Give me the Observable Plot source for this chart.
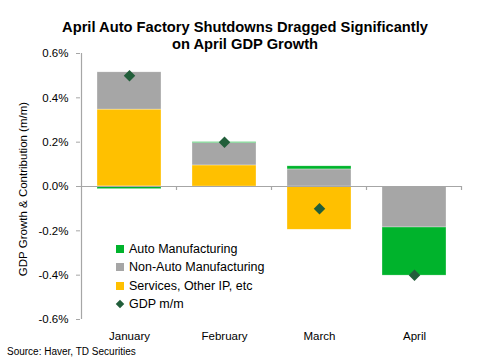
<!DOCTYPE html>
<html><head><meta charset="utf-8">
<script src="https://cdn.jsdelivr.net/npm/d3@7"></script>
<script src="https://cdn.jsdelivr.net/npm/@observablehq/plot@0.6"></script>
<style>
body{margin:0;background:#fff;font-family:"Liberation Sans",Arial,sans-serif;}
#wrap{position:relative;width:477px;height:358px;overflow:hidden;background:#fff;}
#title{position:absolute;left:0;top:0;width:477px;text-align:center;font-weight:bold;font-size:14.7px;line-height:17px;padding-top:19px;box-sizing:border-box;color:#000;padding-left:13px;z-index:2;}
#chart{position:absolute;left:0;top:48px;z-index:1;}
#legend{position:absolute;left:116px;top:240px;font-size:12.5px;color:#000;z-index:3;}
#legend div{height:18.3px;line-height:18px;display:flex;align-items:center;}
#legend span.sw{display:inline-block;width:8px;height:8px;margin-right:5px;}
#legend span.dm{display:inline-block;width:6px;height:6px;transform:rotate(45deg);margin:0 6px 0 1px;}
#source{position:absolute;left:7px;top:346px;font-size:10px;color:#000;z-index:3;}
</style></head>
<body><div id="wrap">
<div id="title">April Auto Factory Shutdowns Dragged Significantly<br>on April GDP Growth</div>
<div id="chart"></div>
<div id="legend"></div>
<div id="source">Source: Haver, TD Securities</div>
</div>
<script>
const months = ["January","February","March","April"];
const auto = [-0.012, 0.004, 0.014, -0.217];
const nonAuto = [0.168, 0.101, 0.077, -0.185];
const services = [0.347, 0.095, -0.195, 0];
const gdp = [0.50, 0.20, -0.10, -0.40];
const seriesNames = ["Services, Other IP, etc","Non-Auto Manufacturing","Auto Manufacturing"];
const colors = {"Auto Manufacturing":"#00b32c","Non-Auto Manufacturing":"#a6a6a6","Services, Other IP, etc":"#ffc000"};
const gdpColor = "#215e3a";
const yTicks = [-0.6,-0.4,-0.2,0,0.2,0.4,0.6];
const yLabel = "GDP Growth & Contribution (m/m)";

const rows = [];
months.forEach((m,i)=>{
  rows.push({month:m, series:"Services, Other IP, etc", value:services[i]});
  rows.push({month:m, series:"Non-Auto Manufacturing", value:nonAuto[i]});
  rows.push({month:m, series:"Auto Manufacturing", value:auto[i]});
});
const gdpRows = months.map((m,i)=>({month:m, value:gdp[i]}));

const plot = Plot.plot({
  width:477, height:300,
  marginLeft:80, marginRight:15, marginTop:5, marginBottom:29,
  style:{fontFamily:"Liberation Sans, Arial, sans-serif", fontSize:"11.5px", color:"#000", background:"transparent", overflow:"visible"},
  x:{domain:months, paddingInner:0.33, paddingOuter:0.165, label:null, tickSize:0, tickPadding:12},
  y:{domain:[-0.6,0.6], ticks:yTicks, tickFormat:d=>d.toFixed(1)+"%", label:null, tickSize:4, tickPadding:8},
  color:{domain:seriesNames, range:seriesNames.map(s=>colors[s])},
  marks:[
    Plot.barY(rows, Plot.stackY({x:"month", y:"value", fill:"series", order:seriesNames, stroke:"#fff", strokeWidth:0.5, strokeOpacity:0.6})),
    Plot.ruleY([0], {stroke:"#a6a6a6", strokeWidth:1.2}),
    Plot.dot(gdpRows, {x:"month", y:"value", symbol:"diamond2", r:5.2, fill:gdpColor, stroke:"none"})
  ]
});
document.getElementById("chart").appendChild(plot);

const svg = d3.select(plot);
svg.selectAll("g[aria-label='y-axis tick'] path").attr("stroke","#a6a6a6");
const sx = plot.scale("x"), sy = plot.scale("y");
const bw = sx.bandwidth, step = sx.step;
const x0 = sx.apply(months[0]) - (step-bw)/2;
svg.append("line").attr("x1",x0).attr("x2",x0).attr("y1",sy.apply(0.6)).attr("y2",sy.apply(-0.6)).attr("stroke","#a6a6a6").attr("stroke-width",1.2);
months.forEach(m=>{
  const bx = sx.apply(m) + bw + (step-bw)/2;
  svg.append("line").attr("x1",bx).attr("x2",bx).attr("y1",sy.apply(0)).attr("y2",sy.apply(0)+4).attr("stroke","#a6a6a6").attr("stroke-width",1.2);
});
const ly = (sy.apply(0.6)+sy.apply(-0.6))/2 + 3;
svg.append("text").attr("transform",`translate(27,${ly}) rotate(-90)`).attr("text-anchor","middle")
  .attr("font-size","11.5px").attr("fill","#000").text(yLabel);

const leg = document.getElementById("legend");
["Auto Manufacturing","Non-Auto Manufacturing","Services, Other IP, etc"].forEach(s=>{
  const d = document.createElement("div");
  d.innerHTML = `<span class="sw" style="background:${colors[s]}"></span>${s}`;
  leg.appendChild(d);
});
const d = document.createElement("div");
d.innerHTML = `<span class="dm" style="background:${gdpColor}"></span>GDP m/m`;
leg.appendChild(d);
</script>
</body></html>
